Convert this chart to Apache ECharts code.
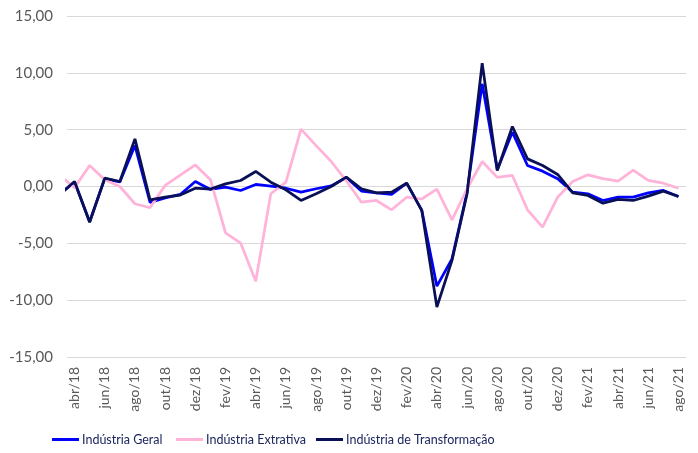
<!DOCTYPE html>
<html>
<head>
<meta charset="utf-8">
<script src="https://cdn.jsdelivr.net/npm/echarts@6/dist/echarts.min.js"></script>
<style>
  html, body { margin: 0; padding: 0; background: #fff; }
  #main { width: 698px; height: 453px; }
</style>
</head>
<body>
<div id="main"></div>
<script>
// meses (o primeiro, mar/18, fica cortado na borda do gráfico)
var meses = ['mar/18',
  'abr/18','mai/18','jun/18','jul/18','ago/18','set/18','out/18','nov/18','dez/18',
  'jan/19','fev/19','mar/19','abr/19','mai/19','jun/19','jul/19','ago/19','set/19','out/19','nov/19','dez/19',
  'jan/20','fev/20','mar/20','abr/20','mai/20','jun/20','jul/20','ago/20','set/20','out/20','nov/20','dez/20',
  'jan/21','fev/21','mar/21','abr/21','mai/21','jun/21','jul/21','ago/21'];

var geral = [-0.7,
  0.4, -3.1, 0.7, 0.4, 3.6, -1.4, -1.0, -0.7, 0.44,
  -0.26, -0.06, -0.35, 0.18, 0.03, -0.15, -0.5, -0.2, 0.05, 0.8, -0.4, -0.56,
  -0.7, 0.3, -2.1, -8.77, -6.36, -0.5, 9.03, 1.47, 4.78, 1.85, 1.35, 0.68,
  -0.5, -0.64, -1.23, -0.94, -0.94, -0.56, -0.35, -0.88];

var extrativa = [1.0,
  -0.1, 1.85, 0.59, 0.0, -1.52, -1.87, 0.1, 1.0, 1.9,
  0.6, -4.07, -4.98, -8.33, -0.64, 0.38, 5.05, 3.6, 2.2, 0.5, -1.38, -1.23,
  -2.05, -0.94, -1.1, -0.23, -2.93, -0.2, 2.2, 0.8, 0.97, -2.05, -3.58, -0.94,
  0.44, 1.03, 0.7, 0.47, 1.44, 0.53, 0.29, -0.15];

var transformacao = [-0.7,
  0.44, -3.14, 0.73, 0.44, 4.19, -1.17, -0.94, -0.75, -0.15,
  -0.23, 0.23, 0.53, 1.32, 0.38, -0.29, -1.23, -0.64, 0.0, 0.82, -0.2, -0.56,
  -0.5, 0.29, -2.1, -10.6, -6.5, -0.64, 10.85, 1.41, 5.28, 2.43, 1.85, 1.06,
  -0.56, -0.79, -1.47, -1.14, -1.23, -0.85, -0.41, -0.88];

var nomes = ['Indústria Geral', 'Indústria Extrativa', 'Indústria de Transformação'];
var cores = ['#0000ff', '#ffb3d9', '#0a1055'];

var fonte = "Lato, 'Noto Sans', sans-serif";

// pares [indice, valor]; mar/18 = -1
function pares(arr) {
  var out = [];
  for (var i = 0; i < arr.length; i++) {
    out.push([i - 1, arr[i]]);
  }
  return out;
}

var chart = echarts.init(document.getElementById('main'));

var series = [geral, extrativa, transformacao].map(function (arr, k) {
  return {
    name: nomes[k],
    type: 'line',
    xAxisIndex: 1,
    data: pares(arr),
    showSymbol: false,
    symbol: 'none',
    clip: true,
    lineStyle: { color: cores[k], width: 2.75 },
    itemStyle: { color: cores[k] },
    z: 2 + k
  };
});

// uma legenda por serie, para acertar as posicoes
var legendLeft = [52, 176, 316];
var legends = nomes.map(function (n, k) {
  return {
    left: legendLeft[k],
    top: 433,
    padding: 0,
    icon: 'rect',
    itemWidth: 27,
    itemHeight: 3,
    data: [n],
    textStyle: { color: '#1c2660', fontSize: 12.5, fontFamily: fonte, padding: [0, 0, 0, -2] }
  };
});

var option = {
  animation: false,
  color: cores,
  textStyle: { fontFamily: fonte },
  grid: { left: 67, right: 12, top: 16, bottom: 96 },
  legend: legends,
  xAxis: [{
    type: 'category',
    data: meses.slice(1),
    boundaryGap: true,
    axisLine: { show: false },
    axisTick: { show: false },
    splitLine: { show: false },
    axisLabel: {
      interval: 1,
      rotate: 90,
      margin: 10,
      color: '#595959',
      fontSize: 14,
      fontFamily: fonte
    }
  }, {
    type: 'value',
    min: -0.5,
    max: meses.length - 1.5,
    show: false
  }],
  yAxis: {
    type: 'value',
    min: -15,
    max: 15,
    interval: 5,
    axisLine: { show: false },
    axisTick: { show: false },
    splitLine: { lineStyle: { color: '#d9d9d9', width: 1 } },
    axisLabel: {
      margin: 14,
      color: '#595959',
      fontSize: 15,
      fontFamily: fonte,
      formatter: function (v) { return v.toFixed(2).replace('.', ','); }
    }
  },
  series: series
};

chart.setOption(option);
</script>
</body>
</html>
